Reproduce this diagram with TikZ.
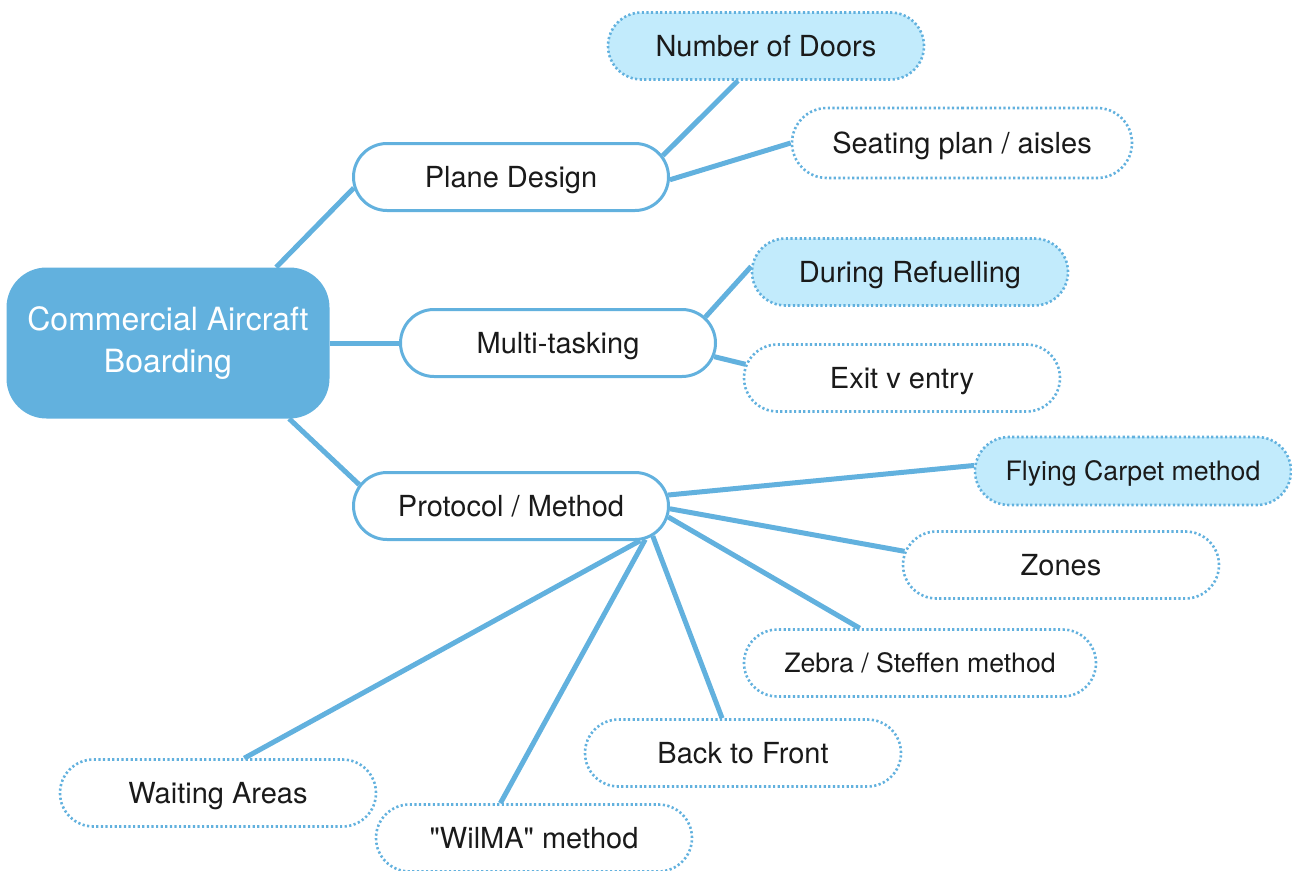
\documentclass[tikz,border=0pt]{standalone}
\usepackage{fontspec}
\setmainfont{TeX Gyre Heros}
\newfontfamily\qfont{TeX Gyre Heros}
\usetikzlibrary{shapes.misc,backgrounds}
\definecolor{mblue}{HTML}{62B1DE}
\definecolor{lblue}{HTML}{C2EBFC}
\definecolor{txt}{HTML}{1A1A1A}
\begin{document}
\begin{tikzpicture}[x=1pt,y=-1pt,
  rootbox/.style={rectangle, rounded corners=40pt, fill=mblue, text=white,
    minimum width=323pt, minimum height=151pt, inner sep=0pt, align=center,
    font=\fontsize{32}{42}\selectfont},
  mainbox/.style={rounded rectangle, draw=mblue, line width=3pt, fill=white,
    text=txt, minimum width=315pt, minimum height=67pt, inner sep=0pt,
    text height=21pt, text depth=0pt,
    font=\fontsize{29}{35}\selectfont},
  leafbox/.style={rounded rectangle, draw=mblue, line width=2.6pt,
    dash pattern=on 2.2pt off 2.4pt, fill=white, text=txt,
    minimum width=316pt, minimum height=67pt, inner sep=0pt,
    text height=21pt, text depth=0pt,
    font=\fontsize{29}{35}\selectfont},
  hlbox/.style={leafbox, fill=lblue},
  smalltext/.style={font=\fontsize{26.7}{32}\selectfont, text height=19.2pt},
  conn/.style={draw=mblue, line width=5pt}
]
\useasboundingbox (0,0) rectangle (1292,870);

\node[rootbox] (root) at (168,343) {Commercial Aircraft\\Boarding};

\node[mainbox] (pd) at (511,177) {Plane Design};
\node[mainbox] (mt) at (558,343) {Multi-tasking};
\node[mainbox] (pm) at (511,506) {Protocol / Method};

\node[hlbox] (nod) at (766,46) {Number of Doors};
\node[leafbox, minimum width=340pt, minimum height=70pt] (sp) at (962,143) {Seating plan / aisles};
\node[hlbox] (dr) at (910,272) {During Refuelling};
\node[leafbox] (ex) at (902,378) {Exit v entry};
\node[hlbox, smalltext, minimum height=68pt] (fc) at (1133,471) {Flying Carpet method};
\node[leafbox] (zo) at (1061,565) {Zones};
\node[leafbox, smalltext, minimum width=352pt] (ze) at (920,663) {Zebra / Steffen method};
\node[leafbox] (bf) at (743,753) {Back to Front};
\node[leafbox] (wi) at (534,838) {{\qfont"}WilMA{\qfont"} method};
\node[leafbox] (wa) at (218,793) {Waiting Areas};

\begin{scope}[on background layer]
\draw[conn] (root.35) -- (pd.184);
\draw[conn] (root.0) -- (mt.180);
\draw[conn] (root.-32) -- (pm.172);
\draw[conn] (pd.8) -- (nod.231);
\draw[conn] (pd.-1) -- (sp.180);
\draw[conn] (mt.10.5) -- (dr.178);
\draw[conn] (mt.-5.4) -- (ex.175);
\draw[conn] (pm.4.4) -- (fc.178);
\draw[conn] (pm.-1.5) -- (zo.175.6);
\draw[conn] (pm.-4.4) -- (ze.150);
\draw[conn] (pm.-12) -- (bf.121.7);
\draw[conn] (pm.-14.4) -- (wi.134);
\draw[conn] (pm.-15.2) -- (wa.53);
\end{scope}
\end{tikzpicture}
\end{document}
